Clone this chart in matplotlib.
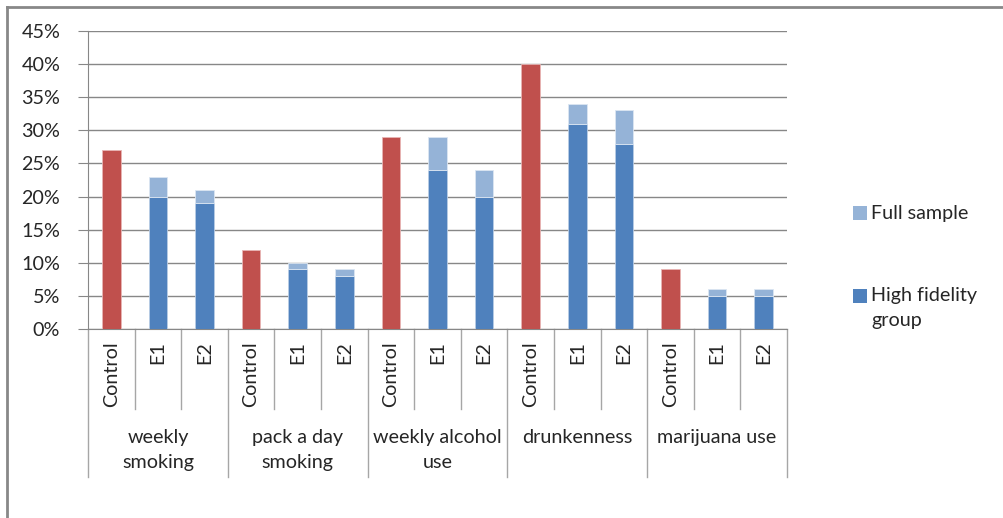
import matplotlib
matplotlib.use("Agg")
import matplotlib.pyplot as plt
import matplotlib.transforms as mtransforms
from matplotlib.lines import Line2D
from matplotlib.patches import Rectangle
from matplotlib.ticker import FuncFormatter

plt.rcParams['font.family'] = ['Lato', 'DejaVu Sans']

groups = ["weekly\nsmoking", "pack a day\nsmoking", "weekly alcohol\nuse", "drunkenness", "marijuana use"]
subgroups = ["Control", "E1", "E2"]
control = [27, 12, 29, 40, 9]
high_fidelity_e1 = [20, 9, 24, 31, 5]
high_fidelity_e2 = [19, 8, 20, 28, 5]
full_sample_e1 = [23, 10, 29, 34, 6]
full_sample_e2 = [21, 9, 24, 33, 6]
y_ticks = [0, 5, 10, 15, 20, 25, 30, 35, 40, 45]

RED = "#C0504D"
BLUE = "#4F81BD"
LIGHT = "#95B3D7"
GRID = "#878787"
TXT = "#262626"
FS = 14.2
LS = 1.58

W, H = 1004, 518
fig = plt.figure(figsize=(W / 100, H / 100), dpi=100)
ax_l, ax_r, ax_t, ax_b = 88, 787, 31, 329
ax = fig.add_axes([ax_l / W, (H - ax_b) / H, (ax_r - ax_l) / W, (ax_b - ax_t) / H])

bw = 0.4
for g in range(len(groups)):
    xc = 3 * g
    ax.bar(xc, control[g], width=bw, color=RED, edgecolor="#E8B5B4", linewidth=0.6, zorder=3)
    for k, (hf, fs) in enumerate([(high_fidelity_e1[g], full_sample_e1[g]),
                                   (high_fidelity_e2[g], full_sample_e2[g])]):
        x = xc + 1 + k
        ax.bar(x, hf, width=bw, color=BLUE, edgecolor="#B9CDE5", linewidth=0.6, zorder=3)
        ax.bar(x, fs - hf, bottom=hf, width=bw, color=LIGHT, edgecolor="#DCE6F2", linewidth=0.6, zorder=3)

ax.set_xlim(-0.5, 3 * len(groups) - 0.5)
ax.set_ylim(0, 45)
ax.set_yticks(y_ticks)
ax.yaxis.set_major_formatter(FuncFormatter(lambda v, p: f"{int(v)}%"))
ax.yaxis.grid(True, color=GRID, linewidth=1.0, zorder=0)
ax.set_axisbelow(True)
for s in ["top", "right"]:
    ax.spines[s].set_visible(False)
ax.spines["left"].set_color(GRID)
ax.spines["bottom"].set_color(GRID)
ax.tick_params(axis="y", length=7, color=GRID, labelsize=FS, labelcolor=TXT, pad=13)
ax.set_xticks([])

trans = mtransforms.blended_transform_factory(ax.transData, ax.transAxes)
hgt = ax_b - ax_t

def ypx(p):
    return (ax_b - p) / hgt

# separators
n = 3 * len(groups)
for k in range(n + 1):
    x = -0.5 + k
    y_end = ypx(477) if k % 3 == 0 else ypx(409)
    ax.plot([x, x], [0, y_end], color="#A6A6A6", linewidth=1.0, transform=trans, clip_on=False)

# sub labels
for g in range(len(groups)):
    for k, s in enumerate(subgroups):
        ax.text(3 * g + k, ypx(341), s, rotation=90, ha="center", va="top",
                fontsize=FS, color=TXT, transform=trans)
    ax.text(3 * g + 1, ypx(429), groups[g], ha="center", va="top", fontsize=FS,
            color=TXT, transform=trans, linespacing=LS)

# legend (manual)
fig.add_artist(Rectangle((853 / W, 1 - 220 / H), 14 / W, 14 / H, transform=fig.transFigure,
                         facecolor=LIGHT, edgecolor="none"))
fig.text(871 / W, 1 - 213 / H, "Full sample", ha="left", va="center", fontsize=FS, color=TXT)
fig.add_artist(Rectangle((853 / W, 1 - 303 / H), 14 / W, 14 / H, transform=fig.transFigure,
                         facecolor=BLUE, edgecolor="none"))
fig.text(871 / W, 1 - 287 / H, "High fidelity\ngroup", ha="left", va="top", fontsize=FS,
         color=TXT, linespacing=LS)

# outer frame
fig.add_artist(Line2D([7 / W, 7 / W], [0, 1 - 7 / H], transform=fig.transFigure, color="#888888", linewidth=2))
fig.add_artist(Line2D([7 / W, 1], [1 - 7 / H, 1 - 7 / H], transform=fig.transFigure, color="#888888", linewidth=2))

fig.savefig("out.png", dpi=100)
